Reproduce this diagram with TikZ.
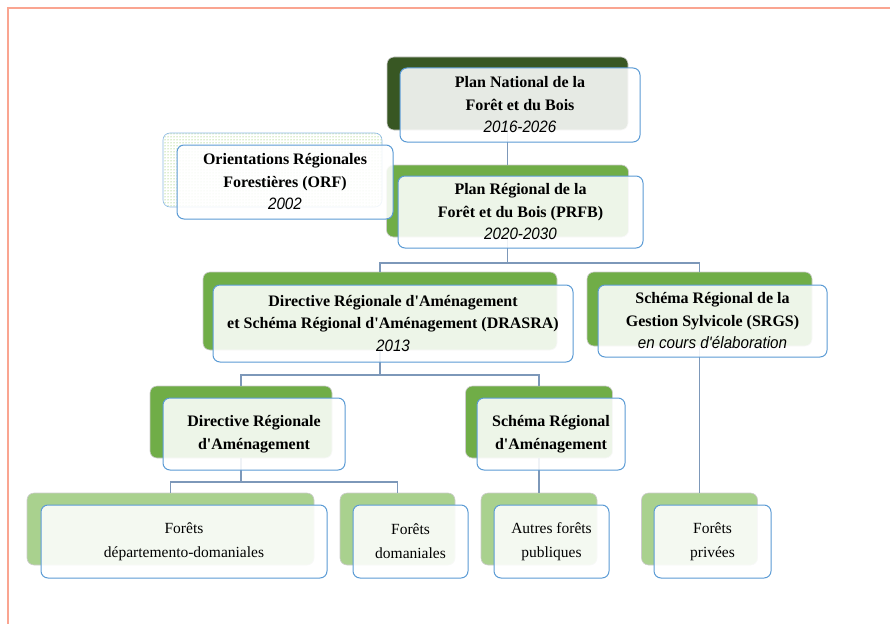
\documentclass[tikz,border=0pt]{standalone}
\usepackage{fontspec}
\setmainfont{Liberation Serif}
\newfontfamily\yearfont[FakeStretch=0.92]{Liberation Sans}
\usetikzlibrary{patterns}

\definecolor{darkleaf}{RGB}{56,87,35}
\definecolor{leaf}{RGB}{112,173,71}
\definecolor{paleleaf}{RGB}{169,209,142}
\definecolor{dotleaf}{RGB}{110,180,50}
\definecolor{boxblue}{RGB}{91,155,213}
\definecolor{linkblue}{RGB}{125,152,185}
\definecolor{framered}{RGB}{250,165,145}

\newcommand{\annee}[1]{{\yearfont\itshape\fontseries{m}\fontsize{16.5}{22.5}\selectfont #1}}
\newcommand{\apos}{\textquotesingle}

\tikzset{
  back/.style={rounded corners=7pt, draw=gray!40, line width=0.6pt},
  front/.style={rounded corners=7pt, draw=boxblue, line width=1pt, fill=white,
    fill opacity=0.88, text opacity=1, align=center, inner sep=2pt,
    font=\fontsize{16}{22.5}\selectfont\bfseries},
  leafbox/.style={front, font=\fontsize{15.5}{24}\selectfont},
  link/.style={draw=linkblue, line width=1.2pt}
}

\begin{document}
\begin{tikzpicture}[x=1pt,y=-1pt]
\useasboundingbox (0,0) rectangle (890,623);
%%%%%%%%%%%%%%%%%%Draw The Frame%%%%%%%%%%%%%%%
\draw[framered, line width=1.5pt] (8,640) -- (8,8) -- (900,8);

%%%%%%%%%%%%%%Draw Back Boxes%%%%%%%%%%%%%%
\node[back, fill=darkleaf, minimum width=241, minimum height=73] (pnfb) at (507.5,93.5) {};
\node[back, fill=leaf, minimum width=242, minimum height=72] (prfb) at (507.5,201) {};
\node[back, draw=boxblue!70, pattern=dots, pattern color=dotleaf, minimum width=219, minimum height=74] (orf) at (272.5,170) {};
\node[back, fill=leaf, minimum width=354, minimum height=78] (drasra) at (380,311) {};
\node[back, fill=leaf, minimum width=225, minimum height=74] (srgs) at (699.5,309) {};
\node[back, fill=leaf, minimum width=182, minimum height=72] (dra) at (241,422) {};
\node[back, fill=leaf, minimum width=147, minimum height=72] (sra) at (539,422) {};
\node[back, fill=paleleaf, minimum width=287, minimum height=72] (fdd) at (170.5,529) {};
\node[back, fill=paleleaf, minimum width=115, minimum height=72] (fd) at (397.5,529) {};
\node[back, fill=paleleaf, minimum width=116, minimum height=72] (afp) at (539,529) {};
\node[back, fill=paleleaf, minimum width=116, minimum height=72] (fp) at (699.5,529) {};

%%%%%%%%%%%%%%Draw Links Between Levels%%%%%%%%%%%%%%
\coordinate (j1) at (507.5,263);
\coordinate (j2) at (380,375);
\coordinate (j3) at (241,482);
\draw[link] (pnfb) -- (prfb);
\draw[link] (prfb) -- (j1) -| (drasra);
\draw[link] (j1) -| (srgs);
\draw[link] (drasra) -- (j2) -| (dra);
\draw[link] (j2) -| (sra);
\draw[link] (dra) -- (j3) -| (fdd);
\draw[link] (j3) -| (fd);
\draw[link] (sra) -- (afp);
\draw[link] (srgs) -- (fp);

%%%%%%%%%%%%%%Draw Front Boxes With Texts%%%%%%%%%%%%%%
\node[front, minimum width=240, minimum height=74] (pnfbtxt) at (520,105)
  {Plan National de la\\Forêt et du Bois\\\annee{2016-2026}};
\node[front, minimum width=245, minimum height=72] (prfbtxt) at (520.5,212)
  {Plan Régional de la\\Forêt et du Bois (PRFB)\\\annee{2020-2030}};
\node[front, minimum width=216, minimum height=74] (orftxt) at (285,182)
  {Orientations Régionales\\Forestières (ORF)\\\annee{2002}};
\node[front, minimum width=360, minimum height=77] (drasratxt) at (393,323.5)
  {Directive Régionale d\apos Aménagement\\et Schéma Régional d\apos Aménagement (DRASRA)\\\annee{2013}};
\node[front, minimum width=229, minimum height=72] (srgstxt) at (712.5,321)
  {Schéma Régional de la\\Gestion Sylvicole (SRGS)\\\annee{en cours d\apos élaboration}};
\node[front, minimum width=182, minimum height=72] (dratxt) at (254,434)
  {Directive Régionale\\d\apos Aménagement};
\node[front, minimum width=148, minimum height=72] (sratxt) at (551,434)
  {Schéma Régional\\d\apos Aménagement};

%%%%%%%%%%%%%%Draw The Forest Boxes%%%%%%%%%%%%%%
\node[leafbox, minimum width=286, minimum height=73] (fddtxt) at (184,541.5)
  {Forêts\\départemento-domaniales};
\node[leafbox, minimum width=115, minimum height=73] (fdtxt) at (410.5,541.5)
  {Forêts\\domaniales};
\node[leafbox, minimum width=115, minimum height=73] (afptxt) at (551.5,541.5)
  {Autres forêts\\publiques};
\node[leafbox, minimum width=117, minimum height=73] (fptxt) at (712.5,541.5)
  {Forêts\\privées};
\end{tikzpicture}
\end{document}
